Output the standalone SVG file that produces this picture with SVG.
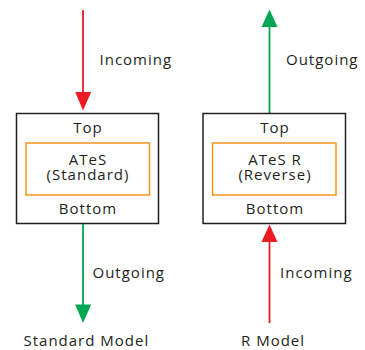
<svg xmlns="http://www.w3.org/2000/svg" width="365" height="350" viewBox="0 0 365 350">
<style>
text{font-family:"Open Sans","Liberation Sans",sans-serif;font-size:15px;fill:#231f20;letter-spacing:1px}
.c{text-anchor:middle}
.box{fill:#fff;stroke:#231f20;stroke-width:1.5}
.inner{fill:none;stroke:#f7941d;stroke-width:1.5}
.red{stroke:#ed1c24;stroke-width:1.8;fill:none}
.green{stroke:#00a651;stroke-width:1.8;fill:none}
</style>
<rect width="365" height="350" fill="#fff"/>
<g id="connectors">
<line class="red" x1="83" y1="10" x2="83" y2="95"/>
<polygon points="75.2,92 91.2,92 83,110.5" fill="#ed1c24"/>
<line class="green" x1="83" y1="224" x2="83" y2="307"/>
<polygon points="75.2,304.5 91.2,304.5 83,323" fill="#00a651"/>
<line class="green" x1="269.5" y1="113" x2="269.5" y2="25"/>
<polygon points="261.5,27 277.5,27 269.5,9.5" fill="#00a651"/>
<line class="red" x1="269.5" y1="323" x2="269.5" y2="240"/>
<polygon points="261.5,242 277.5,242 269.5,224.5" fill="#ed1c24"/>
</g>
<g id="labels">
<text x="99.5" y="65">Incoming</text>
<text x="92.5" y="278">Outgoing</text>
<text x="286" y="65">Outgoing</text>
<text x="280" y="278">Incoming</text>
</g>
<g id="standard">
<rect class="box" x="16.5" y="113.5" width="142" height="110"/>
<rect class="inner" x="26" y="143" width="123.5" height="52"/>
<text class="c" x="88" y="132.5">Top</text>
<text class="c" x="88" y="165">ATeS</text>
<text class="c" x="88" y="179.5">(Standard)</text>
<text class="c" x="88" y="214">Bottom</text>
</g>
<g id="reverse">
<rect class="box" x="203" y="113.5" width="142.5" height="110"/>
<rect class="inner" x="212.5" y="143" width="123.5" height="52"/>
<text class="c" x="275" y="132.5">Top</text>
<text class="c" x="275" y="165">ATeS R</text>
<text class="c" x="275" y="179.5">(Reverse)</text>
<text class="c" x="275" y="214">Bottom</text>
</g>
<g id="titles">
<text x="23.5" y="346">Standard Model</text>
<text x="241" y="346">R Model</text>
</g>
</svg>
